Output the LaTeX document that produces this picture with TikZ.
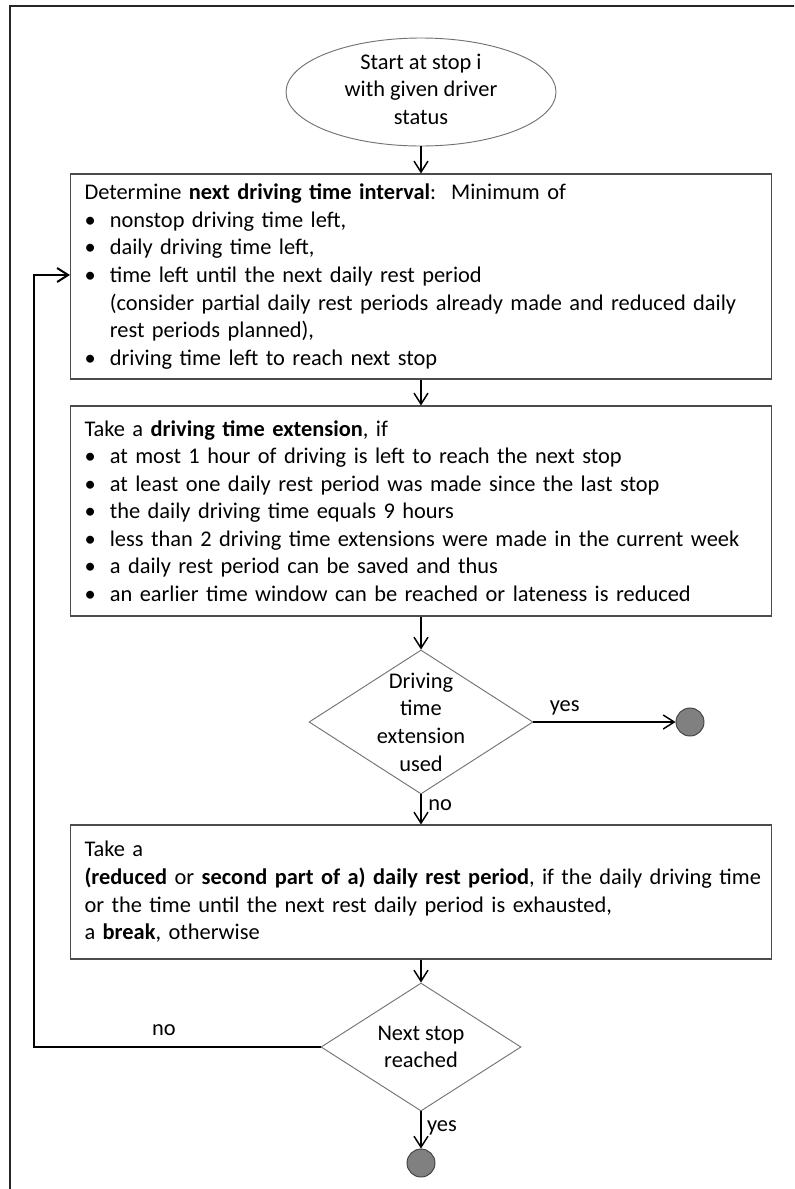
\documentclass[tikz,border=0pt]{standalone}
\usepackage{fontspec}
\setmainfont{Carlito}
\usetikzlibrary{arrows.meta,shapes.geometric}
\tikzset{
  txt/.style={font=\fontsize{16.8}{20.7}\selectfont},
  box/.style={txt,draw=black!70,line width=0.8pt,rectangle,align=left,
    text width=504.75pt,inner xsep=10.5pt,inner ysep=0pt,anchor=center},
  startell/.style={draw=black!55,line width=0.7pt,ellipse,inner sep=0pt,
    minimum width=202.5pt,minimum height=81pt},
  dia/.style={draw=black!55,line width=0.7pt,diamond,inner sep=0pt},
  ctext/.style={txt,align=center,inner sep=0pt},
  endpt/.style={circle,fill=black!50,draw=black!75,line width=0.7pt,minimum size=21pt,inner sep=0pt},
  arr/.style={-{Straight Barb[length=8.25pt,width=10.5pt]},line width=1.1pt,black},
  lbl/.style={txt,inner sep=0pt},
  frame/.style={draw=black!85,line width=1.2pt}
}
\newcommand{\bitem}[1]{\mbox{\makebox[19pt][l]{\textbullet}#1}}
\newcommand{\bcont}[1]{\mbox{\hspace*{19pt}#1}}
\begin{document}
\begin{tikzpicture}[x=0.75pt,y=-0.75pt]
\useasboundingbox (0,0) rectangle (794,1189);
\clip (0,0) rectangle (794,1189);
\draw[frame] (10,6) rectangle (830,1230);

\node[startell] (start) at (421,92) {};
\node[ctext] (startt) at (421,89) {Start at stop i\\with given driver\\status};

\node[box,minimum height=153.75pt] (b1) at (421,276.5) {\mbox{Determine \textbf{next driving time interval}:\ \ Minimum of}\\
\bitem{nonstop driving time left,}\\
\bitem{daily driving time left,}\\
\bitem{time left until the next daily rest period}\\
\bcont{(consider partial daily rest periods already made and reduced daily}\\
\bcont{rest periods planned),}\\
\bitem{driving time left to reach next stop}};

\node[box,minimum height=157.5pt] (b2) at (421,511) {\mbox{Take a \textbf{driving time extension}, if}\\
\bitem{at most 1 hour of driving is left to reach the next stop}\\
\bitem{at least one daily rest period was made since the last stop}\\
\bitem{the daily driving time equals 9 hours}\\
\bitem{less than 2 driving time extensions were made in the current week}\\
\bitem{a daily rest period can be saved and thus}\\
\bitem{an earlier time window can be reached or lateness is reduced}};

\node[dia,minimum width=168pt,minimum height=108pt] (d1) at (421,722) {};
\node[ctext] (d1t) at (d1.center) {Driving\\time\\extension\\used};
\node[endpt] (e1) at (690,722) {};

\node[box,minimum height=100.5pt] (b3) at (421,892) {Take a\\
\mbox{\textbf{(reduced} or \textbf{second part of a) daily rest period}, if the daily driving time}\\
\mbox{or the time until the next rest daily period is exhausted,}\\
a \textbf{break}, otherwise};

\node[dia,minimum width=150pt,minimum height=96pt] (d2) at (421,1047) {};
\node[ctext] (d2t) at (d2.center) {Next stop\\reached};
\node[endpt] (e2) at (421,1163) {};

\coordinate (lb) at (34,1047);
\coordinate (lt) at (34,275);
\coordinate (b1in) at (b1.west |- lt);

\draw[arr] (start) -- (b1);
\draw[arr] (b1) -- (b2);
\draw[arr] (b2) -- (d1);
\draw[arr] (d1.east) -- (e1) node[lbl,pos=0.22,above=5pt] (yes1) {yes};
\draw[arr] (d1.south) -- (b3.north) node[lbl,pos=0.35,right=5pt] (no1) {no};
\draw[arr] (b3) -- (d2);
\draw[arr] (d2.south) -- (e2) node[lbl,pos=0.45,right=4pt] (yes2) {yes};
\draw[arr,line width=1.5pt] (d2.west) -- (lb) -- (lt) -- (b1in);
\node[lbl] (no2) at (164,1030) {no};
\end{tikzpicture}
\end{document}
